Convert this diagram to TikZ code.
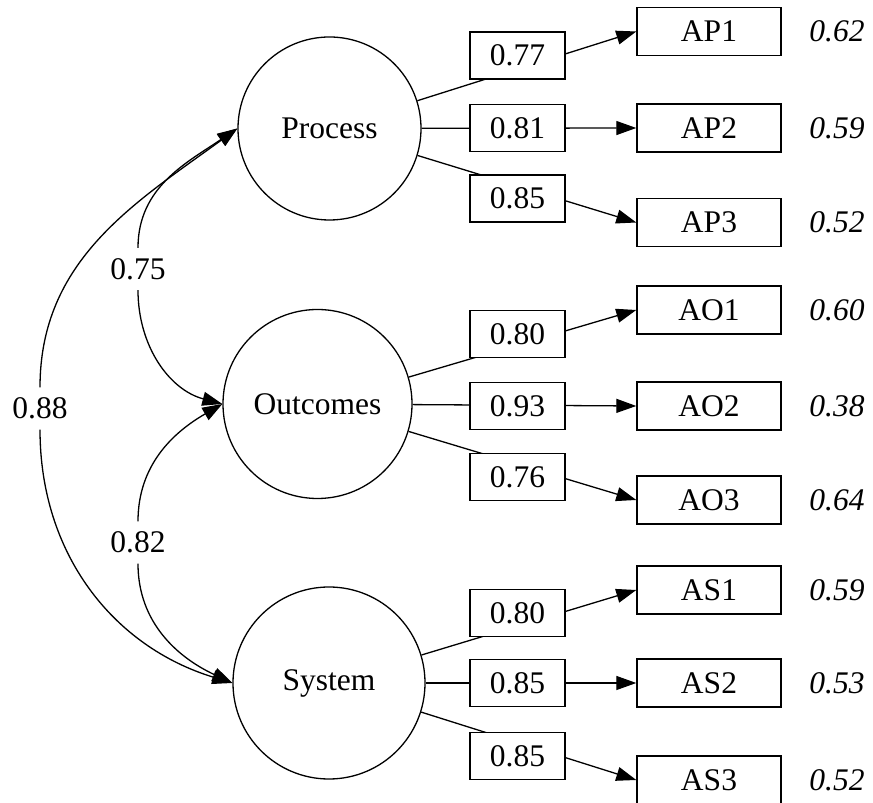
\documentclass[tikz,border=0pt]{standalone}
\usepackage{fontspec}
\setmainfont{Liberation Serif}
\usetikzlibrary{arrows.meta}
\begin{document}
\begin{tikzpicture}[x=1pt,y=1pt,
  every node/.style={font=\fontsize{31.5}{38}\selectfont},
  latent/.style={draw,circle,line width=1.3pt,inner sep=0pt},
  ind/.style={draw,rectangle,line width=1.4pt,minimum width=144pt,minimum height=48pt,inner sep=0pt},
  loadbox/.style={draw,fill=white,rectangle,line width=1.4pt,minimum width=95pt,minimum height=47pt,inner sep=0pt},
  resid/.style={font=\fontsize{31.5}{38}\selectfont\itshape},
  covlab/.style={minimum height=42pt,inner sep=0pt},
  arr/.style={line width=1.3pt,-{Triangle[length=20pt,width=14pt]}},
  link/.style={line width=1.3pt}
]
\useasboundingbox (0,0) rectangle (873,803);

% latent variables
\node[latent,minimum size=183pt] (P) at (329.5,674.5) {Process};
\node[latent,minimum size=189pt] (O) at (317.5,399) {Outcomes};
\node[latent,minimum size=192pt] (S) at (329,120) {System};

% indicators
\node[ind] (AP1) at (709,771.5) {AP1};
\node[ind] (AP2) at (709,675) {AP2};
\node[ind] (AP3) at (709,580.5) {AP3};
\node[ind] (AO1) at (709,493) {AO1};
\node[ind] (AO2) at (709,397) {AO2};
\node[ind] (AO3) at (709,303) {AO3};
\node[ind] (AS1) at (709,213) {AS1};
\node[ind] (AS2) at (709,120) {AS2};
\node[ind] (AS3) at (709,23) {AS3};

% residual values
\node[resid] (rP1) at (837,771.5) {0.62};
\node[resid] (rP2) at (837,675) {0.59};
\node[resid] (rP3) at (837,580.5) {0.52};
\node[resid] (rO1) at (837,493) {0.60};
\node[resid] (rO2) at (837,397) {0.38};
\node[resid] (rO3) at (837,303) {0.64};
\node[resid] (rS1) at (837,213) {0.59};
\node[resid] (rS2) at (837,120) {0.53};
\node[resid] (rS3) at (837,23) {0.52};

% loading paths
\draw[arr] (P) -- (AP1.west);
\draw[arr] (P) -- (AP2.west);
\draw[arr] (P) -- (AP3.west);
\draw[arr] (O) -- (AO1.west);
\draw[arr] (O) -- (AO2.west);
\draw[arr] (O) -- (AO3.west);
\draw[arr] (S) -- (AS1.west);
\draw[arr] (S) -- (AS2.west);
\draw[arr] (S) -- (AS3.west);

% loading labels
\node[loadbox] (LP1) at (517.5,747.5) {0.77};
\node[loadbox] (LP2) at (517.5,675) {0.81};
\node[loadbox] (LP3) at (517.5,604.5) {0.85};
\node[loadbox] (LO1) at (517.5,469) {0.80};
\node[loadbox] (LO2) at (517.5,397) {0.93};
\node[loadbox] (LO3) at (517.5,326) {0.76};
\node[loadbox] (LS1) at (517.5,190) {0.80};
\node[loadbox] (LS2) at (517.5,120) {0.85};
\node[loadbox] (LS3) at (517.5,47) {0.85};

% covariance labels
\node[covlab] (C75) at (138,534) {0.75};
\node[covlab] (C88) at (40,394.5) {0.88};
\node[covlab] (C82) at (138,260.5) {0.82};

% covariances
\draw[arr] (C75.north) to[out=90,in=214] (P.west);
\draw[arr] (C75.south) to[out=-90,in=165] (O.west);
\draw[arr] (C88.north) to[out=90,in=216] (P.west);
\draw[arr] (C88.south) to[out=-90,in=163] (S.west);
\draw[arr] (C82.north) to[out=90,in=210] (O.west);
\draw[arr] (C82.south) to[out=-90,in=155] (S.west);
\end{tikzpicture}
\end{document}
